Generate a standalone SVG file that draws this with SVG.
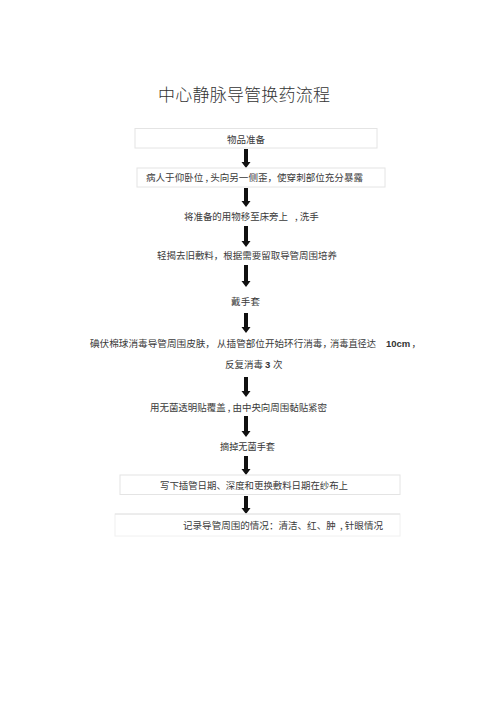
<svg xmlns="http://www.w3.org/2000/svg" width="500" height="707" viewBox="0 0 500 707">
<defs>
<style>
.t{font-family:"Noto Sans CJK SC","Liberation Serif",serif;font-size:9.5px;fill:#3a3a3a}
.title{font-family:"Noto Sans CJK SC","Liberation Serif",serif;font-size:17px;fill:#333;font-weight:300}
.num{font-family:"Liberation Sans",Arial,sans-serif;font-size:9.5px;font-weight:bold;fill:#333}
.box{fill:#fff;stroke:#e4e4e4;stroke-width:1}
.arrow{fill:#111}
</style>
</defs>
<rect width="500" height="707" fill="#fff"/>
<text class="title" x="158" y="100.5" textLength="172">中心静脉导管换药流程</text>

<g id="connectors" class="arrow">
<path id="a1" d="M244,149 h4 v13 h2.5 l-4.5,6 l-4.5,-6 h2.5 z"/>
<path id="a2" d="M244,188 h4 v13 h2.5 l-4.5,6 l-4.5,-6 h2.5 z"/>
<path id="a3" d="M244,226 h4 v15 h2.5 l-4.5,6 l-4.5,-6 h2.5 z"/>
<path id="a4" d="M244,265 h4 v16 h2.5 l-4.5,6 l-4.5,-6 h2.5 z"/>
<path id="a5" d="M244,313 h4 v14 h2.5 l-4.5,6 l-4.5,-6 h2.5 z"/>
<path id="a6" d="M244,377 h4 v14 h2.5 l-4.5,6 l-4.5,-6 h2.5 z"/>
<path id="a7" d="M244,416 h4 v15 h2.5 l-4.5,6 l-4.5,-6 h2.5 z"/>
<path id="a8" d="M244,456 h4 v13 h2.5 l-4.5,6 l-4.5,-6 h2.5 z"/>
<path id="a9" d="M244,496 h4 v12 h2.5 l-4.5,6 l-4.5,-6 h2.5 z"/>
</g>

<g id="n1">
<rect class="box" x="135" y="128.5" width="242" height="19.5"/>
<text class="t" x="227" y="142.5" textLength="38">物品准备</text>
</g>
<g id="n2">
<rect class="box" x="137" y="168" width="248" height="19"/>
<text class="t" x="146" y="180.5" textLength="217" lengthAdjust="spacingAndGlyphs">病人于仰卧位 , 头向另一侧歪，使穿刺部位充分暴露</text>
</g>
<g id="n3">
<text class="t" x="184" y="219.5" textLength="104" lengthAdjust="spacingAndGlyphs">将准备的用物移至床旁上</text>
<text class="t" x="295" y="219.5">, 洗手</text>
</g>
<g id="n4">
<text class="t" x="157" y="258.5" textLength="180" lengthAdjust="spacingAndGlyphs">轻揭去旧敷料，根据需要留取导管周围培养</text>
</g>
<g id="n5">
<text class="t" x="231" y="305" textLength="29">戴手套</text>
</g>
<g id="n6">
<text class="t" x="90" y="347" textLength="125" lengthAdjust="spacingAndGlyphs">碘伏棉球消毒导管周围皮肤，</text>
<text class="t" x="217" y="347" textLength="115" lengthAdjust="spacingAndGlyphs">从插管部位开始环行消毒，</text>
<text class="t" x="330" y="347" textLength="46" lengthAdjust="spacingAndGlyphs">消毒直径达</text>
<text class="t" x="386" y="347"><tspan class="num">10cm</tspan><tspan x="411.5">，</tspan></text>
<text class="t" x="225" y="367.5"><tspan textLength="38" lengthAdjust="spacingAndGlyphs">反复消毒</tspan><tspan class="num" x="265">3</tspan><tspan x="273">次</tspan></text>
</g>
<g id="n7">
<text class="t" x="150" y="410.5" textLength="177" lengthAdjust="spacingAndGlyphs">用无菌透明贴覆盖 , 由中央向周围黏贴紧密</text>
</g>
<g id="n8">
<text class="t" x="220" y="449.5" textLength="55" lengthAdjust="spacingAndGlyphs">摘掉无菌手套</text>
</g>
<g id="n9">
<rect class="box" x="120" y="475" width="280" height="19.5"/>
<text class="t" x="160" y="489" textLength="188" lengthAdjust="spacingAndGlyphs">写下插管日期、深度和更换敷料日期在纱布上</text>
</g>
<g id="n10">
<rect x="115" y="514" width="285" height="22" fill="#fff" stroke="#f0f0f0"/>
<line x1="115" y1="514" x2="400" y2="514" stroke="#e2e2e2"/>
<text class="t" x="183" y="528.5" textLength="200" lengthAdjust="spacingAndGlyphs" xml:space="preserve">记录导管周围的情况：清洁、红、肿  , 针眼情况</text>
</g>
</svg>
